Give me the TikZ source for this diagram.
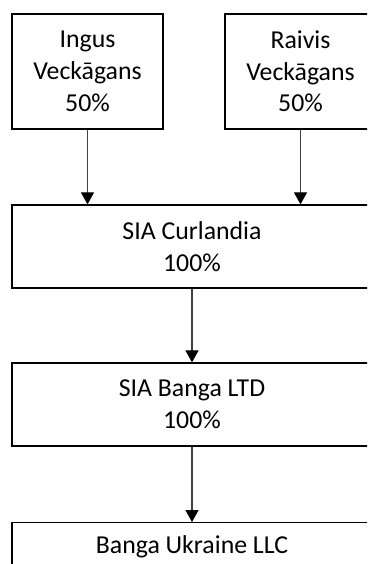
\documentclass[tikz,border=0pt]{standalone}
\usepackage{fontspec}
\setmainfont{Carlito}
\usetikzlibrary{arrows.meta,positioning}

\begin{document}
\begin{tikzpicture}[x=1pt,y=-1pt,
    owner/.style={draw,line width=1.3pt,inner sep=0pt,align=center,
      minimum width=151pt,minimum height=115pt},
    company/.style={draw,line width=1.3pt,inner sep=0pt,align=center,
      minimum width=360pt,minimum height=83pt},
    link/.style={-{Triangle[length=12pt,width=13pt,color=black]},line width=1.1pt,black!75}]
    \fontsize{25.8pt}{31.7pt}\selectfont
    % Ramme (billedet er beskaaret til hoejre og forneden)
    \useasboundingbox (0,0) rectangle (367,564);
    \clip (0,0) rectangle (367,564);
    % Ejere
    \node[owner] (ingus) at (87.5,71.5) {Ingus\\Veckāgans\\50\%};
    \node[owner] (raivis) at (300.5,71.5) {Raivis\\Veckāgans\\50\%};
    % Selskaber
    \node[company] (curl) at (192,246.5) {SIA Curlandia\\100\%};
    \node[company] (banga) at (192,404.5) {SIA Banga LTD\\100\%};
    \node[company,anchor=north,minimum height=0pt,inner ysep=14pt,
      text height=17pt,text depth=55pt] (ukr) at (192,522) {Banga Ukraine LLC};
    % Pile
    \draw[link] (ingus.south) -- (ingus.south |- curl.north);
    \draw[link] (raivis.south) -- (raivis.south |- curl.north);
    \draw[link] (curl.south) -- (banga.north);
    \draw[link] (banga.south) -- (ukr.north);
\end{tikzpicture}
\end{document}
